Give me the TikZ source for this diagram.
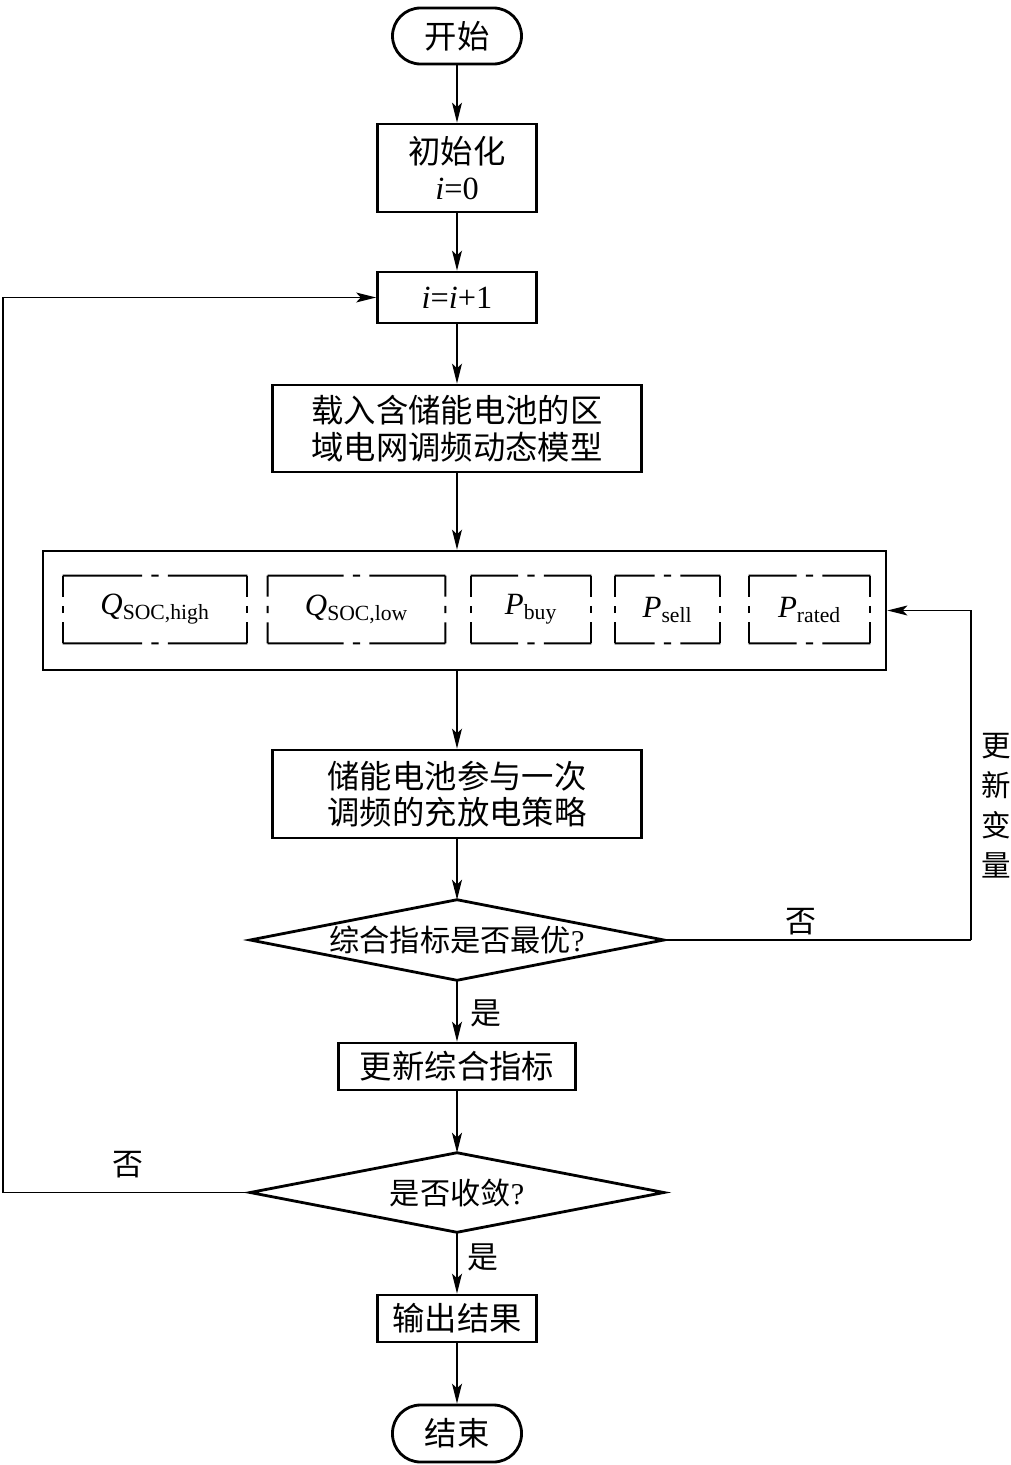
\documentclass[tikz,border=0pt]{standalone}
\usepackage{fontspec}
\setmainfont{Liberation Serif}
\newfontfamily\cjk{Noto Sans CJK SC}
\usetikzlibrary{arrows.meta,calc}
\newcommand\dside[2]{%
  \coordinate (dm) at ($(#1)!0.5!(#2)$);
  \draw[dline] (#1) -- ($(dm)!0.32cm!(#1)$) ($(dm)!0.09cm!(#1)$) -- ($(dm)!0.09cm!(#2)$) ($(dm)!0.32cm!(#2)$) -- (#2);}
\newcommand\ddbox[1]{%
  \dside{#1.north west}{#1.north east}\dside{#1.north east}{#1.south east}%
  \dside{#1.south east}{#1.south west}\dside{#1.south west}{#1.north west}}
\begin{document}
\begin{tikzpicture}[x=0.025cm,y=-0.025cm,
  sz/.style 2 args={minimum width=#1*0.025cm, minimum height=#2*0.025cm},
  txt/.style={font=\fontsize{23}{26}\selectfont\cjk},
  box/.style={draw, line width=2pt, inner sep=0pt, align=center, txt},
  term/.style={box, rounded corners=0.7cm},
  ddb/.style={inner sep=0pt, font=\fontsize{22}{26}\selectfont},
  dline/.style={line width=1.4pt},
  dia/.style={inner sep=0pt, align=center, font=\fontsize{21.5}{26}\selectfont\cjk},
  arr/.style={line width=1pt, -{Stealth[length=0.5cm,width=0.25cm,inset=0.12cm]}},
  ln/.style={line width=1pt},
  lbl/.style={inner sep=0pt, font=\fontsize{22}{26}\selectfont\cjk}]
\useasboundingbox (0,0) rectangle (1011,1465);
\node[term, sz={129}{56}] (start) at (457,36) {开始};
\node[box, sz={159}{88}] (init) at (457,168) {初始化\\{\rmfamily\textit{i}=0}};
\node[box, sz={159}{51}] (inc) at (457,297.5) {\rmfamily\textit{i}=\textit{i}+1};
\node[box, sz={369}{87}] (load) at (457,428.5) {载入含储能电池的区\\域电网调频动态模型};
\node[draw, line width=2pt, inner sep=0pt, sz={843}{119}] (big) at (464.5,610.5) {};
\node[ddb, sz={184}{67}] (q1) at (155,609.5) {\textit{Q}\textsubscript{SOC,high}};
\node[ddb, sz={177}{67}] (q2) at (356.5,609.5) {\textit{Q}\textsubscript{SOC,low}};
\node[ddb, sz={120}{67}] (p1) at (531,609.5) {\textit{P}\textsubscript{buy}};
\node[ddb, sz={105}{67}] (p2) at (667.5,609.5) {\textit{P}\textsubscript{sell}};
\node[ddb, sz={121}{67}] (p3) at (809.5,609.5) {\textit{P}\textsubscript{rated}};
\ddbox{q1}\ddbox{q2}\ddbox{p1}\ddbox{p2}\ddbox{p3}
\node[box, sz={369}{88}] (strat) at (457,794) {储能电池参与一次\\调频的充放电策略};
\node[dia, sz={413}{80}] (d1) at (457,940) {综合指标是否最优{\rmfamily ?}};
\draw[line width=2pt, line join=miter] (d1.west) -- (d1.north) -- (d1.east) -- (d1.south) -- cycle;
\node[box, sz={237}{47}] (upd) at (457,1066.5) {更新综合指标};
\node[dia, sz={413}{79}] (d2) at (457,1192.5) {是否收敛{\rmfamily ?}};
\draw[line width=2pt, line join=miter] (d2.west) -- (d2.north) -- (d2.east) -- (d2.south) -- cycle;
\node[box, sz={159}{47}] (out) at (457,1318.5) {输出结果};
\node[term, sz={129}{57}] (end) at (457,1433.5) {结束};
% connectors
\draw[arr] (start) -- (init);
\draw[arr] (init) -- (inc);
\draw[arr] (inc) -- (load);
\draw[arr] (load.south) -- (load.south |- big.north);
\draw[arr] (strat.north |- big.south) -- (strat.north);
\draw[arr] (strat) -- (d1.north);
\draw[arr] (d1.south) -- (upd.north);
\draw[arr] (upd) -- (d2.north);
\draw[arr] (d2.south) -- (out.north);
\draw[arr] (out) -- (end);
\coordinate (R) at (971,940);
\coordinate (L) at (3,1192.5);
\draw[ln] (d1.east) -- (R);
\draw[arr] (R) |- (big.east);
\draw[ln] (d2.west) -- (L);
\draw[arr] (L) |- (inc.west);
% labels
\node[lbl] (no1) at (801,922) {否};
\node[lbl] (no2) at (128,1165) {否};
\node[lbl] (yes1) at (486,1013) {是};
\node[lbl] (yes2) at (483,1257) {是};
\node[lbl, align=center, font=\fontsize{21}{28.5}\selectfont\cjk] (upv) at (996,806) {更\\新\\变\\量};
\end{tikzpicture}
\end{document}
